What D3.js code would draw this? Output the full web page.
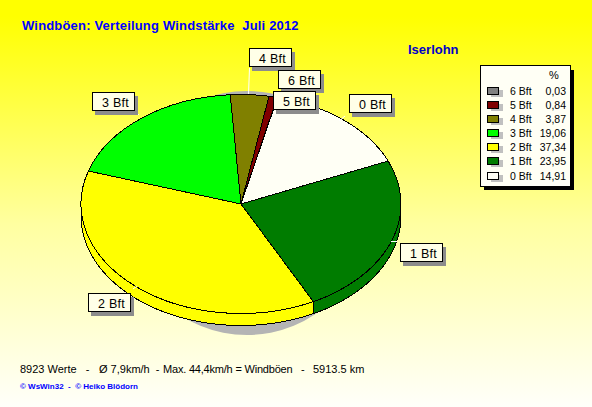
<!DOCTYPE html>
<html><head><meta charset="utf-8">
<script src="https://cdn.jsdelivr.net/npm/d3@7"></script>
<style>html,body{margin:0;padding:0;background:#fff;overflow:hidden}svg{display:block}
text{font-family:"Liberation Sans",Arial,sans-serif;white-space:pre}</style></head><body>
<svg id="c" width="592" height="407"></svg>
<script>
const categories = ["0 Bft","1 Bft","2 Bft","3 Bft","4 Bft","5 Bft","6 Bft"];
const values = [14.91,23.95,37.34,19.06,3.87,0.84,0.03];
const valueLabels = ["14,91","23,95","37,34","19,06","3,87","0,84","0,03"];
const colors = ["#fffff5","#007c00","#ffff00","#00ff00","#808000","#800000","#808080"];
const titleText = "Windböen: Verteilung Windstärke  Juli 2012";
const stationText = "Iserlohn";
const footerParts = ["8923 Werte   -   ","Ø 7,9km/h  -  ","Max. 44,4km/h = Windböen   -   ","5913.5 km"];
const creditText = "© WsWin32  -  © Heiko Blödorn";

const cx=241, cy=204, rx=160, ry=109.5, depth=12, startDeg=13.2;
const svg=d3.select("#c");
const defs=svg.append("defs");
const g=defs.append("linearGradient").attr("id","bg").attr("x1",0).attr("y1",0).attr("x2",0).attr("y2",1);
g.append("stop").attr("offset","0").attr("stop-color","#ffff00");
g.append("stop").attr("offset","0.04").attr("stop-color","#ffff00");
g.append("stop").attr("offset","0.55").attr("stop-color","#ffffa0");
g.append("stop").attr("offset","1").attr("stop-color","#fffffa");
svg.append("rect").attr("width",592).attr("height",407).attr("fill","url(#bg)");

const T=Math.PI*2;
const arcs=d3.pie().sort(null).startAngle(startDeg/360*T).endAngle(startDeg/360*T+T)(values);
const px=a=>cx+rx*Math.sin(a), py=a=>cy-ry*Math.cos(a);

// cast shadow
svg.append("ellipse").attr("cx",247).attr("cy",213).attr("rx",122).attr("ry",122).attr("fill","#b4b4b4");

// side wall: front half of the rim (angles between 90° and 270°)
const line=d3.line();
arcs.forEach((d,i)=>{
  const a0=Math.max(d.startAngle,T/4), a1=Math.min(d.endAngle,3*T/4);
  if(a1<=a0) return;
  const n=Math.max(2,Math.ceil((a1-a0)*60));
  const top=d3.range(n+1).map(k=>a0+(a1-a0)*k/n);
  const pts=top.map(a=>[px(a),py(a)]).concat(top.slice().reverse().map(a=>[px(a),py(a)+depth]));
  svg.append("path").attr("d",line(pts)+"Z").attr("fill",colors[i]).attr("stroke","#000").attr("stroke-width",1).attr("shape-rendering","crispEdges");
});

// top face
const arc=d3.arc().innerRadius(0).outerRadius(rx);
const face=svg.append("g").attr("transform",`translate(${cx},${cy}) scale(1,${ry/rx})`);
face.selectAll("path").data(arcs).join("path").attr("d",arc)
  .attr("fill",(d,i)=>colors[i]).attr("stroke","#000").attr("stroke-width",1)
  .attr("vector-effect","non-scaling-stroke").attr("shape-rendering","crispEdges");

// labels (box left, box top, leader x1,y1,x2,y2), in category order
const labelLayout=[[349,94,345,116,339,121],[400,243,397,241.5,391,241.5],[88,293,133,289,137,286],[92,92,136,112,139,115],[249,48,249.5,68,248.5,94],[273,91,273,96,273,96],[278,70,278,90,278,90]];
const order=[3,2,1,0,4,6,5];
order.forEach(i=>{
  const [x,y,x1,y1,x2,y2]=labelLayout[i];
  svg.append("line").attr("x1",x1).attr("y1",y1).attr("x2",x2).attr("y2",y2).attr("stroke","#fff");
  svg.append("rect").attr("x",x+3).attr("y",y+4).attr("width",43).attr("height",19).attr("fill","#8c8c8c");
  svg.append("rect").attr("x",x+.5).attr("y",y+.5).attr("width",42).attr("height",18).attr("fill","#ffffe8").attr("stroke","#000").attr("shape-rendering","crispEdges");
  svg.append("text").attr("x",x+10).attr("y",y+15).attr("font-size",12.5).attr("letter-spacing",0.25).attr("fill","#000").text(categories[i]);
});

// legend
svg.append("rect").attr("x",484).attr("y",70).attr("width",90).attr("height",120).attr("fill","#000");
svg.append("rect").attr("x",480.5).attr("y",65.5).attr("width",90).attr("height",121).attr("fill","#fffff5").attr("stroke","#000").attr("shape-rendering","crispEdges");
svg.append("text").attr("x",549).attr("y",79).attr("font-size",11).attr("fill","#000").text("%");
const rowY=d3.scaleLinear().domain([0,6]).range([91,175.5]);
d3.range(7).forEach(r=>{
  const i=6-r, y=rowY(r);
  svg.append("rect").attr("x",491).attr("y",Math.round(y-1)).attr("width",12).attr("height",7).attr("fill","#c0c0c0");
  svg.append("rect").attr("x",487.5).attr("y",Math.round(y-4)+.5).attr("width",11).attr("height",7).attr("fill",colors[i]).attr("stroke","#000").attr("stroke-width",1).attr("shape-rendering","crispEdges");
  svg.append("text").attr("x",510).attr("y",y+4).attr("font-size",10.5).attr("fill","#000").text(categories[i]);
  svg.append("text").attr("x",566).attr("y",y+4).attr("text-anchor","end").attr("font-size",10.5).attr("fill","#000").text(valueLabels[i]);
});

// titles
svg.append("text").attr("x",22).attr("y",30).attr("font-size",13).attr("font-weight","bold").attr("letter-spacing",0.18).attr("fill","#0000ff").text(titleText);
svg.append("text").attr("x",408).attr("y",54).attr("font-size",13).attr("font-weight","bold").attr("fill","#0000c8").text(stationText);
const footer=svg.append("text").attr("y",373).attr("font-size",11).attr("fill","#000");
const footerX=[20,99,163,313], footerSpacing=[0,0,-0.2,0];
footerParts.forEach((s,i)=>footer.append("tspan").attr("x",footerX[i]).attr("letter-spacing",footerSpacing[i]).text(s));
svg.append("text").attr("x",20).attr("y",389).attr("font-size",8).attr("font-weight","bold").attr("fill","#0000ff").text(creditText);
</script></body></html>
